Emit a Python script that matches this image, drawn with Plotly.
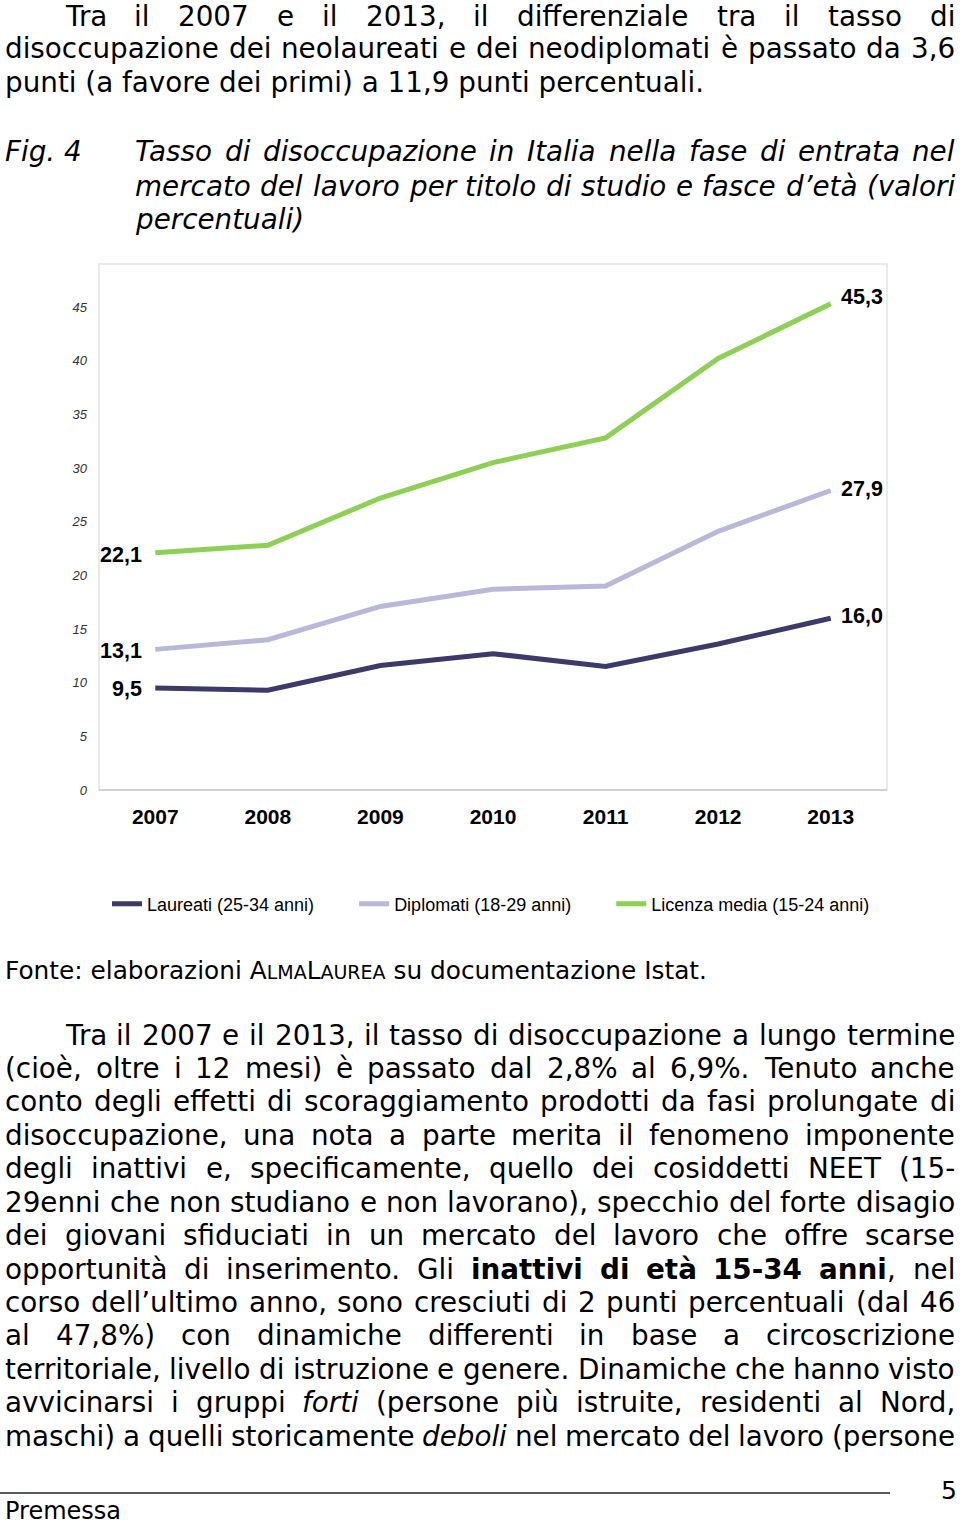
import glob
import re
import plotly.graph_objects as go

# ---------------- data ----------------
years = ["2007", "2008", "2009", "2010", "2011", "2012", "2013"]
laureati = [9.5, 9.3, 11.6, 12.7, 11.5, 13.6, 16.0]
diplomati = [13.1, 14.0, 17.1, 18.7, 19.0, 24.1, 27.9]
licenza = [22.1, 22.8, 27.2, 30.5, 32.8, 40.2, 45.3]
series_names = ["Laureati (25-34 anni)", "Diplomati (18-29 anni)", "Licenza media (15-24 anni)"]
series_colors = ["#3b3a68", "#b9b8d9", "#8dd055"]
y_ticks = [0, 5, 10, 15, 20, 25, 30, 35, 40, 45]

W, H = 960, 1528
HY = 1520  # effective vertical scale used for placing items

# ---------------- text measuring ----------------
def _find(name):
    for pat in ["/usr/share/fonts/**/" + name, "/usr/local/share/fonts/**/" + name,
                "/usr/share/fonts/" + name]:
        r = glob.glob(pat, recursive=True)
        if r:
            return r[0]
    return None

_font_files = {"r": _find("DejaVuSans.ttf"), "b": _find("DejaVuSans-Bold.ttf"),
               "i": _find("DejaVuSans-Oblique.ttf")}
try:
    from PIL import ImageFont
    _have_pil = True
except Exception:
    _have_pil = False

_tbl = {' ': 651, '!': 821, '%': 1946, "'": 563, '(': 799, ')': 799, ',': 651, '-': 739,
        '.': 651, ':': 690, ';': 690, '’': 651,
        'A': 1401, 'B': 1405, 'C': 1430, 'D': 1577, 'E': 1294, 'F': 1178, 'G': 1589, 'H': 1540,
        'I': 604, 'J': 604, 'K': 1343, 'L': 1141, 'M': 1767, 'N': 1532, 'O': 1612, 'P': 1235,
        'Q': 1612, 'R': 1423, 'S': 1300, 'T': 1251, 'U': 1499, 'V': 1401, 'W': 2025, 'X': 1403,
        'Y': 1251, 'Z': 1403,
        'a': 1255, 'b': 1300, 'c': 1126, 'd': 1300, 'e': 1260, 'f': 721, 'g': 1300, 'h': 1298,
        'i': 569, 'j': 569, 'k': 1186, 'l': 569, 'm': 1995, 'n': 1298, 'o': 1253, 'p': 1300,
        'q': 1300, 'r': 842, 's': 1067, 't': 803, 'u': 1298, 'v': 1212, 'w': 1675, 'x': 1212,
        'y': 1212, 'z': 1075, 'à': 1255, 'è': 1260, 'é': 1260, 'ù': 1298, 'ì': 569, 'ò': 1253}
_cache = {}

def measure(text, style, size):
    key = (style, size)
    if _have_pil and _font_files.get(style):
        if key not in _cache:
            try:
                _cache[key] = ImageFont.truetype(_font_files[style], size)
            except Exception:
                _cache[key] = None
        f = _cache[key]
        if f is not None:
            return f.getlength(text)
    w = sum(_tbl.get(c, 1303 if c.isdigit() else 1200) for c in text) / 2048.0 * size
    return w * (1.1 if style == "b" else 1.0)

def word_width(word, size, base="r"):
    total = 0.0
    for tag, inner, plain in re.findall(r'<(b|i)>(.*?)</\1>|([^<]+)', word):
        if tag:
            total += measure(inner, tag if base == "r" else base, size)
        else:
            total += measure(plain, base, size)
    return total

annotations = []
FONT_BODY = "DejaVu Sans"

def py(y):
    return 1 - y / HY

def add_text(text, x, y, size, xanchor="left", family=FONT_BODY, color="#000000"):
    annotations.append(dict(text=text, x=x / W, y=py(y), xref="paper", yref="paper",
                            xanchor=xanchor, yanchor="middle", showarrow=False,
                            borderpad=0, borderwidth=0,
                            font=dict(family=family, size=size, color=color)))

def add_line(text, y, x0, x1, size, justify=True, base="r"):
    wrap = (lambda s: "<i>" + s + "</i>") if base == "i" else (lambda s: s)
    words = text.split(" ")
    if not justify or len(words) == 1:
        add_text(wrap(text), x0, y, size)
        return
    widths = [word_width(w, size, base) for w in words]
    gap = (x1 - x0 - sum(widths)) / (len(words) - 1)
    x = x0
    for i, w in enumerate(words):
        if i == len(words) - 1:
            add_text(wrap(w), x1, y, size, xanchor="right")
        else:
            add_text(wrap(w), x, y, size)
        x += widths[i] + gap

BODY = 27.8
# paragraph 1
para1 = ["Tra il 2007 e il 2013, il differenziale tra il tasso di",
         "disoccupazione dei neolaureati e dei neodiplomati è passato da 3,6",
         "punti (a favore dei primi) a 11,9 punti percentuali."]
add_line(para1[0], 16, 65, 955, BODY)
add_line(para1[1], 49, 5, 955, BODY)
add_line(para1[2], 83, 5, 955, BODY, justify=False)

# caption
add_text("<i>Fig. 4</i>", 5, 152, BODY)
cap = ["Tasso di disoccupazione in Italia nella fase di entrata nel",
       "mercato del lavoro per titolo di studio e fasce d’età (valori",
       "percentuali)"]
add_line(cap[0], 152, 135, 955, BODY, base="i")
add_line(cap[1], 186, 135, 955, BODY, base="i")
add_line(cap[2], 219, 135, 955, BODY, justify=False, base="i")

# source
add_text("Fonte: elaborazioni A<span style='font-size:19px'>LMA</span>L"
         "<span style='font-size:19px'>AUREA</span> su documentazione Istat.", 5, 970, 24.8)

# paragraph 2
para2 = ["Tra il 2007 e il 2013, il tasso di disoccupazione a lungo termine",
         "(cioè, oltre i 12 mesi) è passato dal 2,8% al 6,9%. Tenuto anche",
         "conto degli effetti di scoraggiamento prodotti da fasi prolungate di",
         "disoccupazione, una nota a parte merita il fenomeno imponente",
         "degli inattivi e, specificamente, quello dei cosiddetti NEET (15-",
         "29enni che non studiano e non lavorano), specchio del forte disagio",
         "dei giovani sfiduciati in un mercato del lavoro che offre scarse",
         "opportunità di inserimento. Gli <b>inattivi</b> <b>di</b> <b>età</b> <b>15-34</b> <b>anni</b>, nel",
         "corso dell’ultimo anno, sono cresciuti di 2 punti percentuali (dal 46",
         "al 47,8%) con dinamiche differenti in base a circoscrizione",
         "territoriale, livello di istruzione e genere. Dinamiche che hanno visto",
         "avvicinarsi i gruppi <i>forti</i> (persone più istruite, residenti al Nord,",
         "maschi) a quelli storicamente <i>deboli</i> nel mercato del lavoro (persone"]
for i, ln in enumerate(para2):
    add_line(ln, 1035 + i * 33.43, 65 if i == 0 else 5, 955, BODY)

# footer
add_text("5", 957, 1490, 25, xanchor="right")
add_text("Premessa", 5, 1511, 24)

# ---------------- chart ----------------
fig = go.Figure()
legend_pad = ["\u00a0" * 7, "\u00a0" * 7, ""]
for name, pad, vals, col in zip(series_names, legend_pad, [laureati, diplomati, licenza], series_colors):
    fig.add_trace(go.Scatter(x=years, y=vals, mode="lines", name=name + pad,
                             line=dict(color=col, width=5)))

def fmt(v):
    return ("%.1f" % v).replace(".", ",")

lab_font = dict(family="Liberation Sans", size=21.5, color="#000000")
first_i, last_i = 0, len(years) - 1
for vals, dy_first, dy_last in [(laureati, -1, 2), (diplomati, -2, 2), (licenza, -2, 7)]:
    annotations.append(dict(x=first_i, y=vals[first_i], xref="x", yref="y",
                            text="<b>" + fmt(vals[first_i]) + "</b>",
                            showarrow=False, xanchor="right", yanchor="middle", xshift=-11,
                            yshift=dy_first, font=lab_font))
    annotations.append(dict(x=last_i, y=vals[last_i], xref="x", yref="y",
                            text="<b>" + fmt(vals[last_i]) + "</b>",
                            showarrow=False, xanchor="left", yanchor="middle", xshift=8,
                            yshift=dy_last, font=lab_font))

x0p, x1p = 99 / W, 887 / W
y0p, y1p = py(790), py(264)

fig.update_layout(
    width=W, height=H, margin=dict(l=0, r=0, t=0, b=0),
    paper_bgcolor="white", plot_bgcolor="white",
    annotations=annotations,
    showlegend=True,
    legend=dict(orientation="h", x=107 / W, y=py(904), xanchor="left", yanchor="middle",
                font=dict(family="Liberation Sans", size=18, color="#000000"),
                bgcolor="rgba(0,0,0,0)", tracegroupgap=0),
    xaxis=dict(domain=[x0p, x1p], type="category", range=[-0.5, 6.5], showgrid=False,
               zeroline=False, showline=False, ticks="", ticklabelstandoff=12,
               tickfont=dict(family="Liberation Sans", size=21, color="#000000", weight="bold")),
    yaxis=dict(domain=[y0p, y1p], range=[0, 49], tickvals=y_ticks, showgrid=False,
               zeroline=False, showline=False, ticks="", ticklabelstandoff=11,
               tickfont=dict(family="Liberation Sans", size=13, color="#333333", style="italic")),
    shapes=[
        dict(type="rect", xref="paper", yref="paper", x0=x0p, x1=x1p, y0=y0p, y1=y1p,
             line=dict(color="#e3e3e3", width=1.5), layer="below"),
        dict(type="line", xref="paper", yref="paper", x0=x0p, x1=x1p, y0=y0p, y1=y0p,
             line=dict(color="#c8c8c8", width=1.5)),
        dict(type="line", xref="paper", yref="paper", x0=0, x1=890 / W, y0=py(1493),
             y1=py(1493), line=dict(color="#222222", width=1.5)),
    ],
)

fig.write_html("out.html", config={"displayModeBar": False},
               post_script="document.body.style.margin='0px';")
